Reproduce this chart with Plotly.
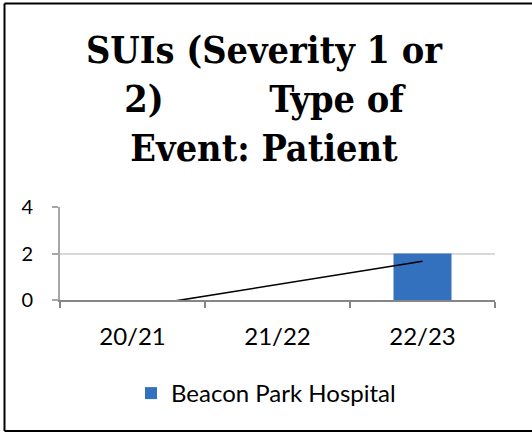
import numpy as np
import plotly.graph_objects as go

categories = ["20/21", "21/22", "22/23"]
values = [0, 0, 2]
series_name = "Beacon Park Hospital"
y_ticks = [0, 2, 4]

# linear trendline fitted to the series
idx = np.arange(len(values))
slope, intercept = np.polyfit(idx, values, 1)
trend = slope * idx + intercept

W, H = 532, 434
L, R, T, B = 60, 37, 207, 134
pw, ph = W - L - R, H - T - B

def px_to_paper_x(px):
    return (px - L) / pw

def px_to_paper_y(py):
    return (H - B - py) / ph

fig = go.Figure()
fig.add_trace(go.Bar(
    x=categories, y=values, name=series_name,
    marker=dict(color="#3370BE", line=dict(width=0)),
    width=0.4,
))
fig.add_trace(go.Scatter(
    x=categories, y=trend, mode="lines", showlegend=False,
    line=dict(color="black", width=1.6), hoverinfo="skip",
))

gap = "\u00a0" * 9
title_text = "SUIs (Severity 1 or<br>2)" + gap + "Type of<br>Event: Patient"

bx0, bx1 = px_to_paper_x(4.5), px_to_paper_x(600)
by0, by1 = px_to_paper_y(431), px_to_paper_y(3.5)
border = dict(color="black", width=2)

fig.update_layout(
    width=W, height=H,
    margin=dict(l=L, r=R, t=T, b=B),
    paper_bgcolor="white", plot_bgcolor="white",
    title=dict(
        text=title_text,
        font=dict(family="DejaVu Serif Condensed, DejaVu Serif", size=37.5,
                  color="black", weight="bold"),
        x=264 / W, xanchor="center", xref="container",
        y=1 - 63 / H, yanchor="top", yref="container",
    ),
    showlegend=True,
    legend=dict(
        orientation="h", x=0.5, xanchor="center", xref="container",
        y=1 - 371 / H, yanchor="top", yref="container",
        font=dict(family="Lato", size=24, color="black"),
        itemwidth=30,
    ),
    xaxis=dict(
        type="category", showline=True, linecolor="#868686", linewidth=2,
        ticks="outside", tickson="boundaries", ticklen=6, tickcolor="#868686", tickwidth=2,
        tickfont=dict(family="Lato", size=24, color="black"),
        showgrid=False, zeroline=False, ticklabelstandoff=14,
    ),
    yaxis=dict(
        range=[0, 4], tickvals=y_ticks, showline=True, linecolor="#A6A6A6", linewidth=2,
        ticks="outside", ticklen=6, tickcolor="#A6A6A6", tickwidth=2,
        tickfont=dict(family="Lato", size=20, color="black"),
        showgrid=True, gridcolor="#D9D9D9", gridwidth=1.5, zeroline=False,
        ticklabelstandoff=15,
    ),
    shapes=[
        dict(type="line", xref="paper", yref="paper", x0=bx0, x1=bx0, y0=by0, y1=by1,
             line=border, layer="above"),
        dict(type="line", xref="paper", yref="paper", x0=bx0, x1=bx1, y0=by1, y1=by1,
             line=border, layer="above"),
        dict(type="line", xref="paper", yref="paper", x0=bx0, x1=bx1, y0=by0, y1=by0,
             line=border, layer="above"),
    ],
)

fig.write_html(
    "out.html",
    config={"displayModeBar": False},
    post_script="document.body.style.margin='0';document.body.style.overflow='hidden';",
)
